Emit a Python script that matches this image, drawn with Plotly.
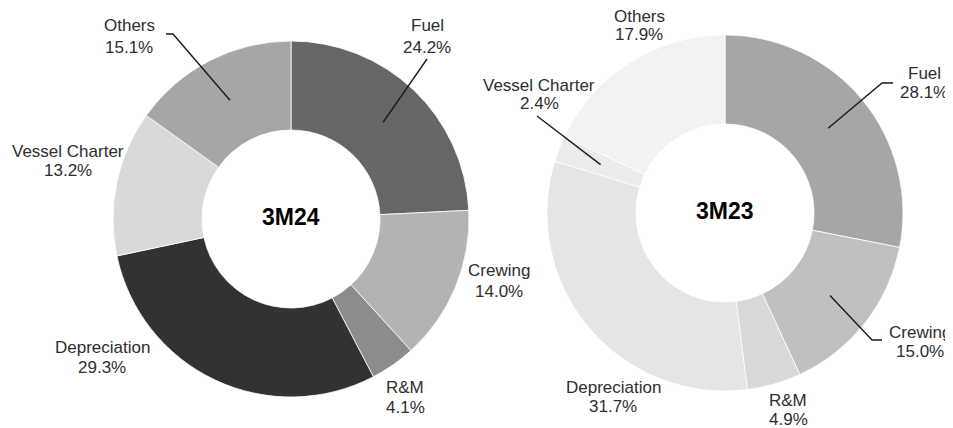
import math
import plotly.graph_objects as go

# ---------------- data ----------------
categories = ["Fuel", "Crewing", "R&M", "Depreciation", "Vessel Charter", "Others"]
values_3m24 = [24.2, 14.0, 4.1, 29.3, 13.2, 15.1]
values_3m23 = [28.1, 15.0, 4.9, 31.7, 2.4, 17.9]
period_labels = ["3M24", "3M23"]

# ---------------- styles / layout ----------------
colors_3m24 = ["#666666", "#b3b3b3", "#8c8c8c", "#323234", "#d9d9d9", "#a6a6a6"]
colors_3m23 = ["#a6a6a6", "#c0c0c0", "#d9d9d9", "#e5e5e5", "#ebebeb", "#f2f2f2"]

OFF = 8                      # page body margin of the html page
W, H = 953 - OFF, 428 - OFF  # figure size so it fits the window
R = 178
HOLE = 0.5
centers = [(291, 219), (725, 213)]   # screen pixels

# label placement per chart: category -> (x, y_name, y_pct) in screen pixels
label_pos = [
    {
        "Fuel": (427, 26, 47),
        "Crewing": (499, 270, 291),
        "R&M": (405, 387, 407),
        "Depreciation": (102, 347, 367),
        "Vessel Charter": (68, 151, 171),
        "Others": (129, 26, 47),
    },
    {
        "Fuel": (924, 73, 93),
        "Crewing": (920, 332, 351),
        "R&M": (788, 400, 419),
        "Depreciation": (613, 387, 406),
        "Vessel Charter": (539, 85, 104),
        "Others": (639, 16, 35),
    },
]
# leader line outer points per chart (inner end computed from data)
leader_pts = [
    {"Others": [(166, 34), (173, 34)], "Fuel": [(427, 59)]},
    {"Fuel": [(893, 83), (882, 83)], "Crewing": [(882, 340), (872, 340)],
     "Vessel Charter": [(537, 116)]},
]

FONT = "Liberation Sans, Arial, sans-serif"
LABEL_SIZE = 17
TEXT_COLOR = "#2e2e2e"


def px(x):
    return (x - OFF) / W


def py(y):
    return 1 - (y - OFF) / H


fig = go.Figure()
annotations = []
shapes = []

for i, (vals, cols) in enumerate([(values_3m24, colors_3m24), (values_3m23, colors_3m23)]):
    cx, cy = centers[i]
    fig.add_trace(go.Pie(
        labels=categories,
        values=vals,
        hole=HOLE,
        sort=False,
        direction="clockwise",
        rotation=0,
        textinfo="none",
        hoverinfo="label+percent",
        marker=dict(colors=cols, line=dict(color="#ffffff", width=0.8)),
        domain=dict(x=[px(cx - R), px(cx + R)], y=[py(cy + R), py(cy - R)]),
        showlegend=False,
    ))
    # center label
    annotations.append(dict(
        x=px(cx), y=py(cy - 2), xref="paper", yref="paper", text="<b>%s</b>" % period_labels[i],
        showarrow=False, font=dict(family=FONT, size=23, color="#000000"),
        xanchor="center", yanchor="middle"))
    total = sum(vals)
    cum = 0.0
    for cat, v in zip(categories, vals):
        mid = (cum + v / 2) / total
        cum += v
        x, yn, yp = label_pos[i][cat]
        annotations.append(dict(
            x=px(x), y=py(yn), xref="paper", yref="paper", text=cat, showarrow=False,
            font=dict(family=FONT, size=LABEL_SIZE, color=TEXT_COLOR),
            xanchor="center", yanchor="middle"))
        annotations.append(dict(
            x=px(x), y=py(yp), xref="paper", yref="paper", text="%.1f%%" % v, showarrow=False,
            font=dict(family=FONT, size=LABEL_SIZE, color=TEXT_COLOR),
            xanchor="center", yanchor="middle"))
        if cat in leader_pts[i]:
            th = 2 * math.pi * mid
            rm = R * (1 + HOLE) / 2
            ix = cx + rm * math.sin(th)
            iy = cy - rm * math.cos(th)
            pts = leader_pts[i][cat] + [(ix, iy)]
            path = "M %f,%f " % (px(pts[0][0]), py(pts[0][1])) + " ".join(
                "L %f,%f" % (px(a), py(b)) for a, b in pts[1:])
            shapes.append(dict(type="path", path=path, xref="paper", yref="paper",
                               line=dict(color="#1a1a1a", width=1.4)))

fig.update_layout(
    width=W, height=H,
    margin=dict(l=0, r=0, t=0, b=0),
    paper_bgcolor="#ffffff", plot_bgcolor="#ffffff",
    annotations=annotations, shapes=shapes,
    font=dict(family=FONT),
)

fig.write_html("out.html")
